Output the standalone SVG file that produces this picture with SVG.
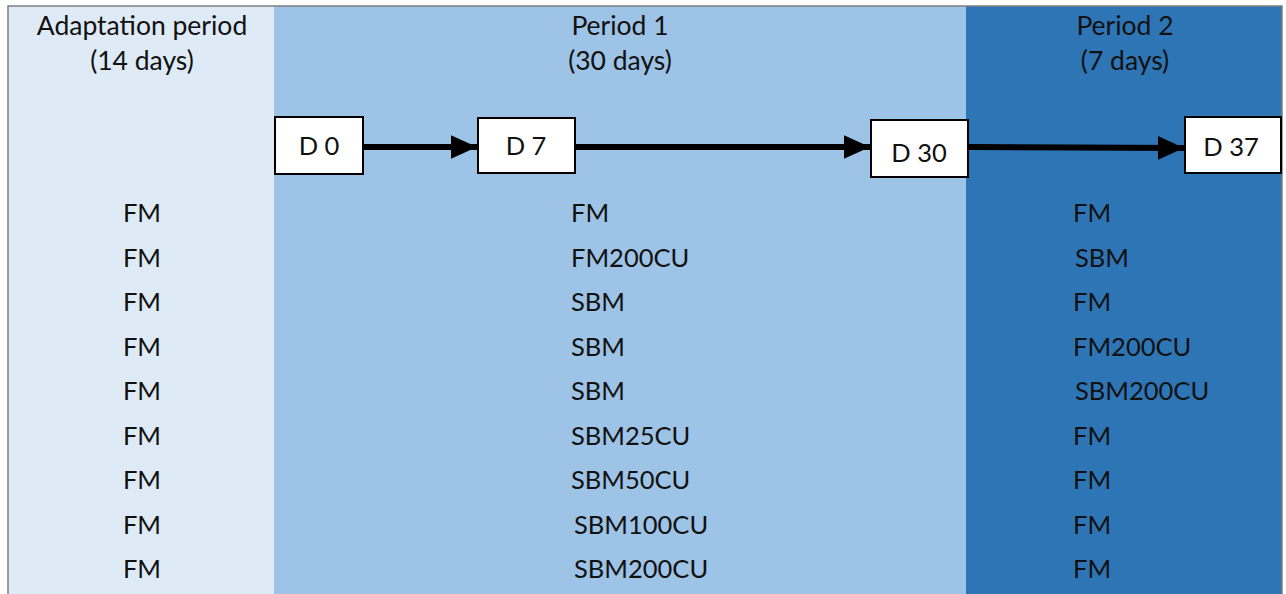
<svg xmlns="http://www.w3.org/2000/svg" width="1286" height="594" viewBox="0 0 1286 594">
<style>
text{font-family:Lato,"Open Sans","Liberation Sans",sans-serif;font-size:25.5px;fill:#111}
.h{font-size:26.5px}
.c{text-anchor:middle}
.box{fill:#fff;stroke:#000;stroke-width:2}
.arr{stroke:#000;stroke-width:6;fill:none}
</style>
<defs>
<marker id="ah" markerWidth="5" markerHeight="5" refX="4.4" refY="2.5" orient="auto" markerUnits="strokeWidth">
<path d="M0,0.5 L4.4,2.5 L0,4.5 Z" fill="#000"/>
</marker>
</defs>
<g id="panels">
<rect x="8" y="6" width="266" height="600" fill="#DEEAF6"/>
<rect x="274" y="6" width="692" height="600" fill="#9DC3E6"/>
<rect x="966" y="6" width="316" height="600" fill="#2E75B6"/>
<path d="M8,600 V6 H1282 V600" fill="none" stroke="#7f7f7f" stroke-width="1.5"/>
</g>
<g id="headers">
<text class="c h" x="142" y="35">Adaptation period</text>
<text class="c h" x="142" y="70">(14 days)</text>
<text class="c h" x="620" y="35">Period 1</text>
<text class="c h" x="620" y="70">(30 days)</text>
<text class="c h" x="1125" y="35">Period 2</text>
<text class="c h" x="1125" y="70">(7 days)</text>
</g>
<g id="connectors">
<line class="arr" x1="364" y1="147" x2="477" y2="147" marker-end="url(#ah)"/>
<line class="arr" x1="576" y1="147" x2="870" y2="147" marker-end="url(#ah)"/>
<line class="arr" x1="969" y1="147" x2="1184" y2="148" marker-end="url(#ah)"/>
</g>
<g id="d0"><rect class="box" x="275" y="117" width="88" height="57"/><text class="c" x="319" y="155">D 0</text></g>
<g id="d7"><rect class="box" x="478" y="118" width="97" height="55"/><text class="c" x="526" y="155">D 7</text></g>
<g id="d30"><rect class="box" x="871" y="120" width="97" height="57"/><text class="c" x="919" y="162">D 30</text></g>
<g id="d37"><rect class="box" x="1185" y="117" width="96" height="56"/><text class="c" x="1231" y="156">D 37</text></g>
<g id="adaptation-col">
<text class="c" x="142" y="222">FM</text>
<text class="c" x="142" y="266.5">FM</text>
<text class="c" x="142" y="311">FM</text>
<text class="c" x="142" y="355.5">FM</text>
<text class="c" x="142" y="400">FM</text>
<text class="c" x="142" y="444.5">FM</text>
<text class="c" x="142" y="489">FM</text>
<text class="c" x="142" y="533.5">FM</text>
<text class="c" x="142" y="578">FM</text>
</g>
<g id="period1-col">
<text x="571" y="222">FM</text>
<text x="571" y="266.5">FM200CU</text>
<text x="571" y="311">SBM</text>
<text x="571" y="355.5">SBM</text>
<text x="571" y="400">SBM</text>
<text x="571" y="444.5">SBM25CU</text>
<text x="571" y="489">SBM50CU</text>
<text x="574" y="533.5">SBM100CU</text>
<text x="574" y="578">SBM200CU</text>
</g>
<g id="period2-col">
<text x="1073" y="222">FM</text>
<text x="1075" y="266.5">SBM</text>
<text x="1073" y="311">FM</text>
<text x="1073" y="355.5">FM200CU</text>
<text x="1075" y="400">SBM200CU</text>
<text x="1073" y="444.5">FM</text>
<text x="1073" y="489">FM</text>
<text x="1073" y="533.5">FM</text>
<text x="1073" y="578">FM</text>
</g>
</svg>
